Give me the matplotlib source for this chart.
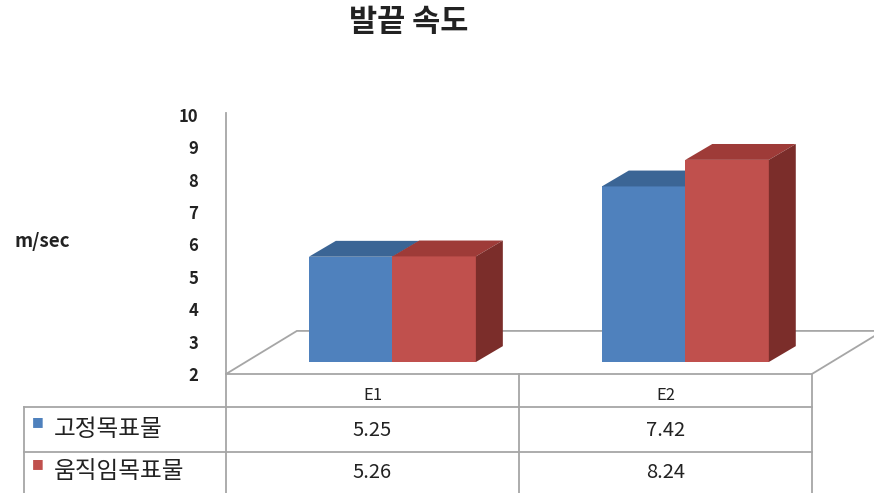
import matplotlib.pyplot as plt
from matplotlib.patches import Polygon
from matplotlib.transforms import blended_transform_factory

plt.rcParams['font.family'] = ['Noto Sans CJK KR', 'DejaVu Sans']

title = "발끝 속도"
y_label = "m/sec"
categories = ["E1", "E2"]
series_names = ["고정목표물", "움직임목표물"]
fixed_target = [5.25, 7.42]
moving_target = [5.26, 8.24]
y_ticks = [2, 3, 4, 5, 6, 7, 8, 9, 10]

series = [fixed_target, moving_target]
front_colors = ["#4F81BD", "#C0504D"]
top_colors = ["#3B6595", "#9E3B38"]
side_colors = ["#2F5078", "#7B2D2A"]
line_col = "#A6A6A6"

W, H = 874, 493
fig = plt.figure(figsize=(W / 100, H / 100), dpi=100)

# plot area: value 2 sits on the front floor edge
ax = fig.add_axes([226 / W, (H - 374) / H, (W - 226) / W, (374 - 95.4) / H])
ax.set_xlim(-0.5, 1.712)
ax.set_ylim(2, 10.6)
for s in ax.spines.values():
    s.set_visible(False)
ax.set_xticks([])
ax.set_yticks(y_ticks)
ax.set_yticklabels([str(t) for t in y_ticks], fontsize=12, fontweight="bold",
                   color="#222222")
ax.tick_params(axis="y", length=0, pad=20)

# 3d look offsets (in data units)
floor_dx, floor_dy = 0.242, 1.33
shift_x, shift_y = 0.068, 0.37
depth_x, depth_y = 0.092, 0.49
bar_w = 0.285
base = y_ticks[0]

# floor
floor = Polygon([(-0.5, base), (1.5, base), (1.5 + floor_dx, base + floor_dy),
                 (-0.5 + floor_dx, base + floor_dy)], closed=True,
                facecolor="white", edgecolor=line_col, lw=1.3, clip_on=False, zorder=1)
ax.add_patch(floor)
ax.plot([-0.5, -0.5], [base, 10.05], color=line_col, lw=1.3, clip_on=False, zorder=1)

# bars
for i in range(len(categories)):
    for k, vals in enumerate(series):
        x0 = i + shift_x + (k - 1) * bar_w
        x1 = x0 + bar_w
        b = base + shift_y
        t = vals[i] + shift_y
        z = 2 + k
        ax.add_patch(Polygon([(x0, b), (x1, b), (x1, t), (x0, t)],
                             facecolor=front_colors[k], edgecolor="none", zorder=z))
        ax.add_patch(Polygon([(x0, t), (x1, t), (x1 + depth_x, t + depth_y),
                              (x0 + depth_x, t + depth_y)],
                             facecolor=top_colors[k], edgecolor="none", zorder=z))
        ax.add_patch(Polygon([(x1, b), (x1 + depth_x, b + depth_y),
                              (x1 + depth_x, t + depth_y), (x1, t)],
                             facecolor=side_colors[k], edgecolor="none", zorder=z))

# data table below the floor
tr = blended_transform_factory(ax.transData, fig.transFigure)
def fy(px):
    return 1 - px / H

left_x = -0.5 - 202 / 293
for py in [407, 452]:
    ax.plot([left_x, 1.5], [fy(py), fy(py)], color=line_col, lw=1.3,
            transform=tr, clip_on=False)
for xv in [-0.5, 0.5, 1.5]:
    ax.plot([xv, xv], [fy(374), fy(493)], color=line_col, lw=1.3,
            transform=tr, clip_on=False)
ax.plot([left_x, left_x], [fy(407), fy(493)], color=line_col, lw=1.3,
        transform=tr, clip_on=False)

for i, c in enumerate(categories):
    ax.text(i, fy(396), c, transform=tr, ha="center", va="center",
            fontsize=12, color="#222222")

row_y = [430, 472]
for k, vals in enumerate(series):
    ax.text(left_x + 8 / 293, fy(row_y[k] - 8), "■", transform=tr, ha="left",
            va="center", fontsize=9, color=front_colors[k], family="DejaVu Sans")
    ax.text(left_x + 30 / 293, fy(row_y[k]), series_names[k], transform=tr,
            ha="left", va="center", fontsize=17, color="#222222")
    for i in range(len(categories)):
        ax.text(i, fy(row_y[k]), f"{vals[i]:.2f}", transform=tr, ha="center",
                va="center", fontsize=14.5, color="#222222")

fig.text(15 / W, fy(241), y_label, ha="left", va="center", fontsize=13.5,
         fontweight="bold", color="#222222")
fig.text(409 / W, fy(22), title, ha="center", va="center", fontsize=22,
         fontweight="bold", color="#222222")

fig.savefig("out.png", dpi=100)
